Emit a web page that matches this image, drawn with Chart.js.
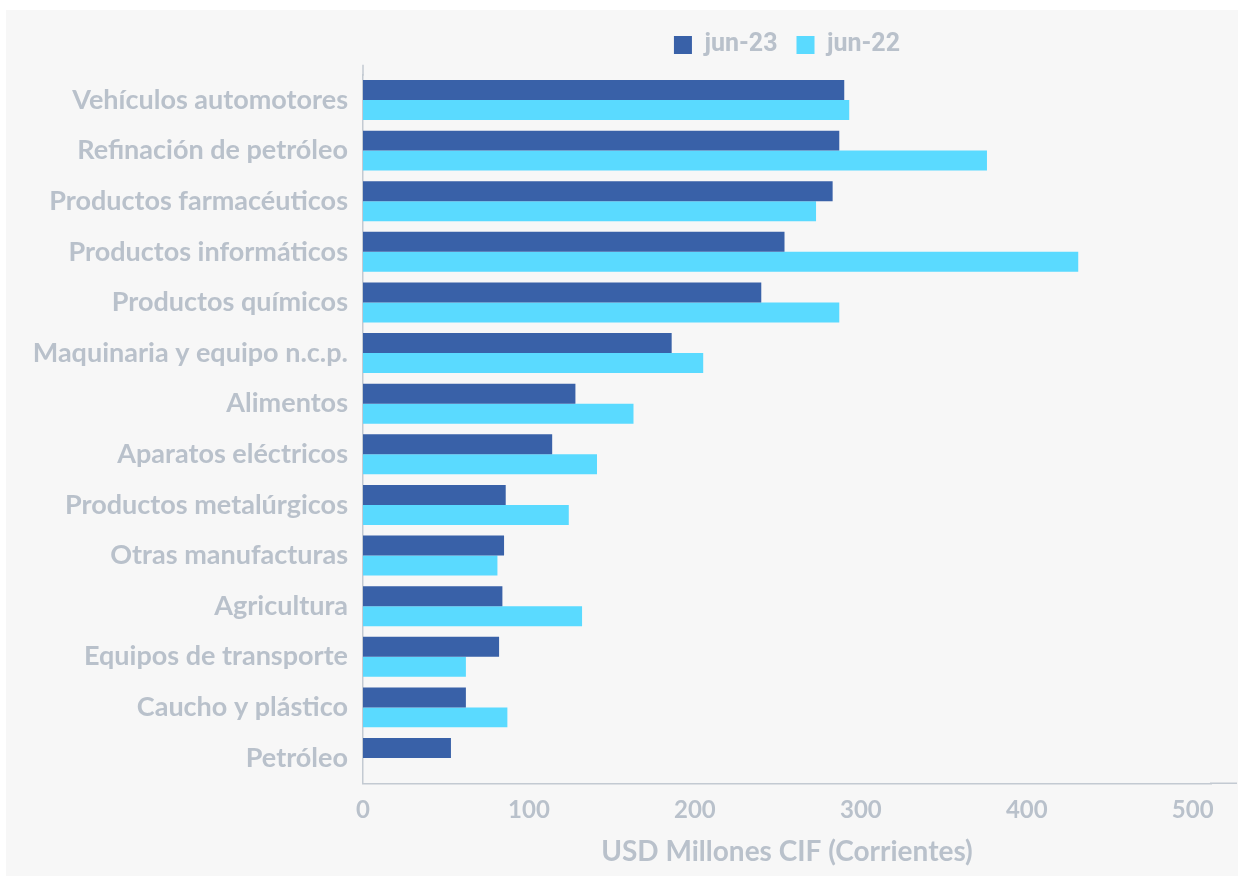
<!DOCTYPE html>
<html>
<head>
<meta charset="utf-8">
<script src="https://cdn.jsdelivr.net/npm/chart.js@4/dist/chart.umd.min.js"></script>
<style>
  html, body { margin: 0; padding: 0; background: #ffffff; }
  #panel { position: absolute; left: 6px; top: 10px; width: 1232px; height: 866px; background: #f7f7f7; }
  canvas { display: block; }
</style>
</head>
<body>
<div id="panel"><canvas id="c" width="1232" height="866"></canvas></div>
<script>
const categories = [
  "Vehículos automotores",
  "Refinación de petróleo",
  "Productos farmacéuticos",
  "Productos informáticos",
  "Productos químicos",
  "Maquinaria y equipo n.c.p.",
  "Alimentos",
  "Aparatos eléctricos",
  "Productos metalúrgicos",
  "Otras manufacturas",
  "Agricultura",
  "Equipos de transporte",
  "Caucho y plástico",
  "Petróleo"
];
const jun23 = [290, 287, 283, 254, 240, 186, 128, 114, 86, 85, 84, 82, 62, 53];
const jun22 = [293, 376, 273, 431, 287, 205, 163, 141, 124, 81, 132, 62, 87, 0];
const xTicks = [0, 100, 200, 300, 400, 500];
const seriesNames = ["jun-23", "jun-22"];
const axisTitle = "USD Millones CIF (Corrientes)";

const TEXT = "#b9c1cb";
const AXIS = "#c3cad2";

const legendCenter = {
  id: "legendCenter",
  afterLayout(chart) {
    const l = chart.legend, ca = chart.chartArea;
    if (l && ca) { l.left = ca.left; l.right = ca.right; }
  }
};
const axisExtend = {
  id: "axisExtend",
  afterDraw(chart) {
    const ca = chart.chartArea, ctx = chart.ctx;
    ctx.save();
    ctx.strokeStyle = AXIS;
    ctx.lineWidth = 1.5;
    ctx.beginPath();
    ctx.moveTo(ca.right - 1, ca.bottom);
    ctx.lineTo(chart.width - 1, ca.bottom);
    ctx.moveTo(ca.left, ca.top + 1);
    ctx.lineTo(ca.left, ca.top - 10);
    ctx.stroke();
    ctx.restore();
  }
};

new Chart(document.getElementById("c"), {
  type: "bar",
  data: {
    labels: categories,
    datasets: [
      { label: seriesNames[0], data: jun23, backgroundColor: "#3961a8", borderWidth: 0 },
      { label: seriesNames[1], data: jun22, backgroundColor: "#5adaff", borderWidth: 0 }
    ]
  },
  options: {
    indexAxis: "y",
    responsive: false,
    animation: false,
    maintainAspectRatio: false,
    layout: { padding: { top: 3.5, left: 0, right: 27, bottom: 0 } },
    datasets: { bar: { categoryPercentage: 0.79, barPercentage: 1.0 } },
    plugins: {
      tooltip: { enabled: false },
      title: {
        display: true,
        text: "",
        weight: 500,
        position: "top",
        padding: { top: 0, bottom: 6 },
        font: { size: 1 }
      },
      legend: {
        position: "top",
        align: "center",
        labels: {
          boxWidth: 18,
          boxHeight: 18,
          padding: 19,
          color: TEXT,
          font: { family: "Roboto", size: 25, weight: "bold" }
        }
      }
    },
    scales: {
      x: {
        type: "linear",
        min: 0,
        max: 511,
        grid: { display: false, drawTicks: false },
        border: { display: true, color: AXIS, width: 1.5 },
        afterBuildTicks(s) { s.ticks = xTicks.map(v => ({ value: v })); },
        afterFit(s) { s.height = 92.7; },
        ticks: {
          padding: 13,
          color: TEXT,
          font: { family: "Lato", size: 24, weight: "bold" }
        },
        title: {
          display: true,
          text: axisTitle,
          color: TEXT,
          padding: { top: 0, bottom: 7 },
          font: { family: "Lato", size: 28, weight: "bold" }
        }
      },
      y: {
        grid: { display: false, drawTicks: false },
        border: { display: true, color: AXIS, width: 1.5 },
        afterFit(s) { s.width = 357; },
        ticks: {
          padding: 15,
          color: TEXT,
          font: { family: "Lato", size: 27, weight: "bold" }
        }
      }
    }
  },
  plugins: [legendCenter, axisExtend]
});
</script>
</body>
</html>
